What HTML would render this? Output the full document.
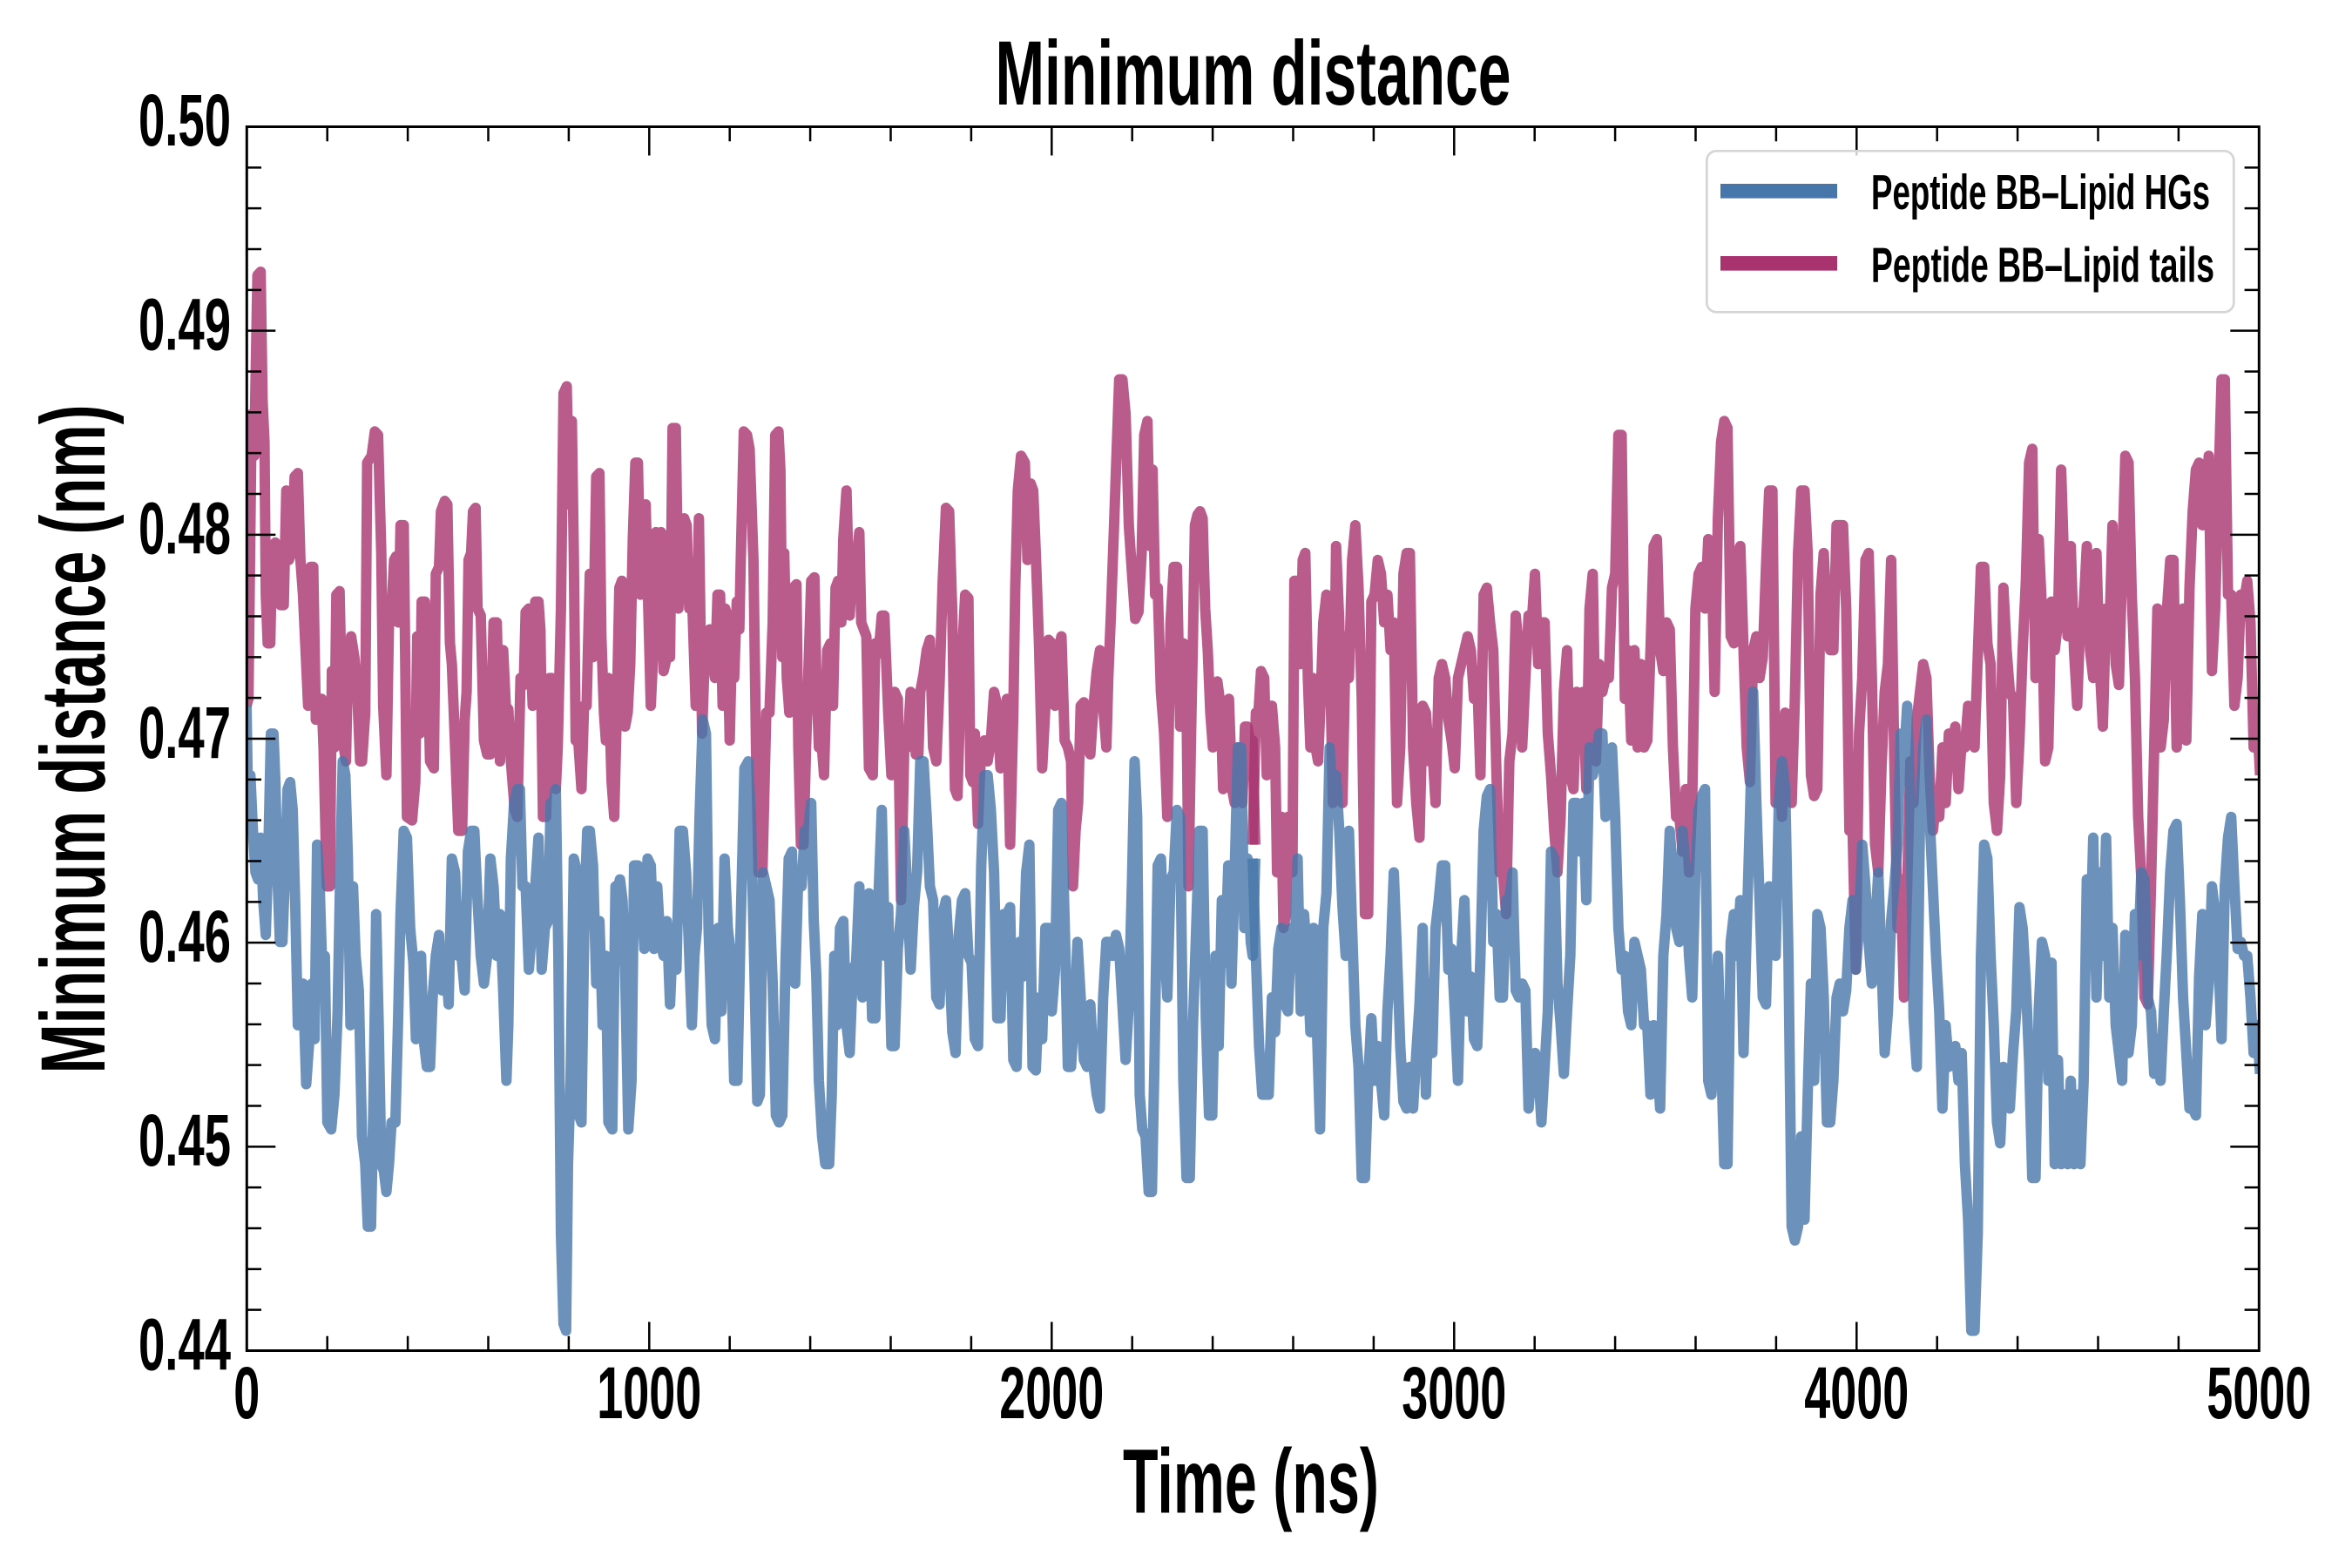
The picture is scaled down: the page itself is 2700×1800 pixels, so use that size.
<!DOCTYPE html>
<html>
<head>
<meta charset="utf-8">
<style>
html,body{margin:0;padding:0;background:#fff;}
svg{display:block;}
text{font-family:"Liberation Sans","DejaVu Sans",sans-serif;font-weight:bold;fill:#000;}
</style>
</head>
<body>
<svg width="2700" height="1800" viewBox="0 0 2700 1800" xmlns="http://www.w3.org/2000/svg">
<rect x="0" y="0" width="2700" height="1800" fill="#fff"/>
<defs>
<clipPath id="ax"><rect x="283.3" y="145.5" width="2310" height="1405"/></clipPath>
</defs>

<g clip-path="url(#ax)" fill="none" stroke-linejoin="round" stroke-linecap="butt">
<g transform="translate(283,300) scale(0.73661,0.79719)">
<polyline vector-effect="non-scaling-stroke" stroke="#a8336f" stroke-opacity="0.8" stroke-width="12" points="0,640 3,630 8,220 12,280 17,20 22,15 25,200 28,260 30,480 33,550 37,550 40,410 45,405 50,440 53,495 58,495 62,330 66,430 70,420 75,310 80,305 84,430 88,480 92,560 96,640 100,440 104,440 108,660 112,630 117,630 120,700 125,900 130,900 133,590 137,700 140,480 145,475 150,690 155,720 158,580 163,540 168,570 172,610 177,720 180,720 185,650 188,290 195,280 200,245 205,250 210,420 213,640 218,740 222,520 225,520 230,430 233,425 237,520 240,380 245,380 250,800 258,805 263,750 266,540 270,680 273,490 278,490 283,600 286,720 292,730 295,450 300,440 303,360 309,345 313,350 317,550 320,580 323,650 330,820 336,820 340,660 343,620 346,430 350,420 353,360 357,355 360,500 365,510 370,690 375,710 380,710 385,520 390,520 395,720 400,560 404,640 408,645 412,720 418,790 422,800 427,600 432,610 435,505 440,500 446,640 450,490 455,490 458,530 462,800 467,800 472,600 476,600 478,700 482,760 485,700 490,500 494,190 499,180 503,350 507,230 510,420 513,690 517,690 522,760 526,640 530,640 535,450 540,570 545,310 550,305 553,540 557,650 560,690 564,600 569,750 573,800 577,650 581,470 585,460 590,670 594,650 598,580 602,400 606,290 610,290 614,480 618,450 622,350 627,530 630,640 635,540 638,390 642,440 646,390 650,590 655,570 660,570 664,240 669,240 673,500 678,420 682,370 686,380 690,500 695,500 700,640 705,370 710,680 714,570 718,540 722,530 725,560 730,600 734,480 738,480 742,640 746,500 749,510 753,690 757,530 760,600 764,490 768,530 770,440 775,245 780,250 784,270 790,430 794,700 798,880 804,880 810,650 815,650 820,520 824,250 829,245 832,300 835,570 838,420 842,600 846,650 852,470 857,465 860,700 864,840 868,840 872,700 876,580 880,460 885,455 888,600 892,700 896,690 900,740 905,560 910,550 914,640 918,470 922,460 927,520 930,400 935,330 940,510 945,420 950,440 955,390 958,520 962,530 966,540 970,730 976,740 980,550 985,565 990,510 994,510 1000,650 1005,740 1010,620 1015,630 1020,920 1025,700 1030,700 1035,620 1040,640 1043,710 1047,710 1050,620 1055,595 1060,560 1065,545 1070,700 1075,720 1080,610 1085,460 1090,355 1095,360 1100,510 1104,760 1108,770 1112,640 1115,570 1120,480 1125,485 1128,740 1132,750 1135,680 1140,810 1145,700 1150,690 1155,720 1160,690 1165,620 1170,640 1175,730 1180,700 1185,630 1190,840 1195,650 1198,470 1202,330 1207,280 1213,290 1217,430 1222,320 1226,330 1230,420 1235,550 1240,730 1245,640 1250,545 1255,550 1260,640 1265,560 1270,540 1275,690 1280,700 1285,720 1288,900 1292,820 1296,780 1300,640 1305,635 1310,700 1315,710 1320,640 1325,590 1330,560 1335,640 1340,700 1343,600 1347,510 1352,380 1355,300 1360,170 1365,170 1370,220 1375,380 1380,450 1385,515 1390,505 1395,420 1399,250 1404,230 1408,410 1412,300 1416,480 1420,470 1425,620 1430,680 1435,800 1440,520 1445,440 1450,440 1455,670 1460,550 1465,640 1468,900 1472,680 1475,540 1478,380 1482,365 1486,360 1490,370 1494,500 1498,560 1502,650 1506,700 1510,620 1513,605 1518,640 1522,760 1526,700 1531,630 1536,760 1540,780 1545,700 1548,720 1552,780 1556,670 1560,670 1565,700 1568,690 1572,840"/>
</g>
<g transform="translate(1438,300) scale(0.73661,0.79719)">
<polyline vector-effect="non-scaling-stroke" stroke="#a8336f" stroke-opacity="0.8" stroke-width="12" points="0,840 5,650 9,650 13,590 18,600 22,740 26,640 30,640 35,700 38,880 42,880 45,800 48,960 52,940 55,800 58,860 62,880 65,460 70,460 74,580 78,430 82,420 86,600 90,700 94,600 98,700 102,720 106,630 110,520 115,480 120,550 125,780 130,410 135,520 140,780 145,540 150,600 155,430 160,380 165,470 170,630 175,940 180,940 185,490 190,480 195,430 200,450 205,520 210,480 215,560 220,520 225,780 230,700 235,450 240,420 245,420 250,700 255,780 260,830 265,640 270,650 275,720 280,700 285,780 290,600 295,580 300,600 305,660 310,690 315,730 320,600 325,580 330,560 335,540 340,560 345,630 350,600 355,740 360,480 365,470 370,520 375,560 380,740 385,880 390,880 395,940 400,720 405,680 410,510 415,560 420,700 425,600 430,510 435,520 440,450 445,580 450,520 455,520 460,680 465,740 470,820 475,880 480,800 485,620 490,560 495,740 500,760 505,620 510,700 515,620 520,760 525,500 530,450 535,720 540,580 545,620 550,600 555,600 560,470 565,450 570,250 575,250 580,630 585,560 590,690 595,560 600,700 605,580 610,700 615,690 620,560 625,410 630,400 635,560 640,590 645,520 650,530 655,700 660,800 665,800 670,850 675,760 680,880 685,780 690,500 695,450 700,440 705,500 710,400 715,410 720,620 725,370 730,260 735,230 740,240 745,540 750,550 755,420 760,410 765,560 770,700 775,750 780,560 785,540 790,600 795,570 800,440 805,330 810,330 815,780 820,720 825,800 830,650 835,700 840,780 845,630 850,420 855,330 860,330 865,420 870,740 875,770 880,760 885,480 890,420 895,520 900,560 905,560 910,380 915,380 920,380 925,500 930,820 935,820 940,1020 945,680 950,600 955,430 960,420 965,600 970,840 975,880 980,730 985,620 990,580 995,430 1000,720 1005,960 1010,890 1015,1060 1020,900 1025,720 1030,780 1035,660 1040,620 1045,580 1050,600 1055,740 1060,820 1065,780 1070,800 1075,700 1080,780 1085,680 1090,700 1095,670 1100,760 1105,690 1110,700 1115,640 1120,680 1125,700 1130,570 1135,440 1140,440 1145,550 1150,580 1155,780 1160,820 1165,740 1170,470 1175,560 1180,620 1185,630 1190,780 1195,690 1200,560 1205,460 1210,290 1215,270 1220,600 1225,400 1230,500 1235,720 1240,700 1245,490 1250,560 1255,520 1260,300 1265,450 1270,540 1275,410 1280,560 1285,640 1290,510 1295,500 1300,410 1305,560 1310,600 1315,420 1320,580 1325,670 1330,500 1335,540 1340,380 1345,580 1350,610 1355,440 1360,280 1365,290 1370,480 1375,600 1380,800 1385,890 1390,1060 1395,1070 1400,900 1405,700 1410,500 1415,700 1420,660 1425,500 1430,430 1435,430 1440,700 1445,620 1450,500 1455,690 1460,470 1465,360 1470,300 1475,290 1480,380 1485,370 1490,280 1495,590 1500,500 1505,330 1510,170 1515,170 1520,480 1525,480 1530,640 1535,600 1540,480 1545,490 1550,460 1555,520 1560,700 1565,650 1570,740"/>
</g>
<g transform="translate(283,300) scale(0.73661,0.79719)">
<polyline vector-effect="non-scaling-stroke" stroke="#4777aa" stroke-opacity="0.8" stroke-width="12" points="0,640 3,820 6,740 10,820 14,880 18,890 22,830 26,920 30,970 34,850 38,680 42,680 45,750 48,880 52,980 56,980 60,880 64,760 68,750 72,790 76,930 80,1100 84,1100 88,1040 93,1185 98,1120 102,1040 106,1120 110,840 114,900 118,1020 122,1000 126,1240 132,1250 137,1200 142,1080 146,880 150,720 154,740 158,860 162,1100 166,900 170,1000 175,1050 180,1260 185,1300 189,1390 194,1390 198,1200 202,940 206,1100 210,1300 214,1310 218,1340 222,1300 226,1240 232,1240 236,1100 240,940 245,820 250,830 255,960 260,1010 264,1120 268,1050 272,1000 276,1120 281,1160 286,1160 290,1060 295,1000 300,970 305,1050 310,1000 315,1070 320,860 325,880 330,1000 335,1000 340,1050 345,850 350,820 355,820 360,920 365,1000 370,1040 375,1000 380,860 385,900 390,1000 395,940 400,1050 405,1180 408,1100 412,860 417,780 422,760 426,760 430,900 435,900 440,1020 445,960 450,900 455,830 460,1020 465,960 470,950 474,780 478,780 482,760 486,1000 490,1400 494,1530 498,1540 501,1300 505,1180 510,860 515,880 518,1230 522,1240 527,920 531,820 535,820 540,870 545,1040 550,950 555,1100 560,1000 564,1240 570,1250 575,900 579,900 582,890 586,920 590,1020 595,1250 600,1180 604,870 610,870 615,900 620,990 625,860 630,870 635,990 640,900 645,980 650,1000 655,950 660,1070 665,960 670,1020 675,820 680,820 685,880 690,1000 694,1100 698,1000 702,960 706,800 711,660 716,680 720,960 725,1100 730,1120 735,960 740,1080 745,860 750,960 755,1000 760,1180 765,1180 770,960 776,730 782,720 786,800 790,960 796,1210 800,1200 805,880 810,900 815,920 820,1040 825,1230 830,1240 835,1230 840,1010 845,860 850,850 855,1040 860,880 865,900 870,820 875,820 880,780 884,950 888,1030 892,1180 897,1260 902,1300 908,1300 912,1200 916,1000 920,1100 925,960 930,950 935,1100 940,1140 945,1020 950,1010 955,900 960,1060 965,1000 970,910 975,1090 980,1090 985,910 990,790 995,1000 1000,930 1005,1130 1010,1130 1015,990 1020,940 1025,820 1030,910 1035,1020 1040,930 1045,880 1050,720 1055,720 1060,800 1065,900 1070,920 1075,1060 1080,1070 1085,940 1090,920 1095,1000 1100,1110 1105,1140 1110,970 1115,920 1120,910 1125,1000 1130,1010 1135,1120 1140,1130 1145,870 1150,740 1155,740 1160,790 1165,880 1170,1090 1175,1090 1180,940 1185,940 1190,930 1195,1150 1200,1160 1205,980 1210,1030 1215,880 1220,840 1225,1160 1230,1165 1235,1060 1240,1120 1245,960 1250,960 1255,1080 1260,1020 1265,790 1270,780 1275,950 1280,1160 1285,1160 1290,1080 1295,980 1300,1060 1305,1150 1310,1160 1315,1070 1320,1160 1325,1200 1330,1220 1335,1060 1340,980 1345,980 1350,1000 1355,970 1360,990 1365,1070 1370,1150 1375,1070 1380,890 1384,720 1388,800 1392,1200 1396,1250 1401,1260 1406,1340 1411,1340 1415,1150 1420,870 1425,860 1430,980 1435,1060 1440,890 1445,880 1450,790 1455,800 1460,1180 1465,1320 1470,1320 1475,1100 1480,960 1485,820 1490,820 1495,1090 1500,1230 1505,1230 1510,1000 1515,1130 1520,920 1525,1010 1530,870 1535,1040 1540,880 1545,700 1550,700 1555,960 1560,860 1565,980 1568,1000 1572,860"/>
</g>
<g transform="translate(1438,300) scale(0.73661,0.79719)">
<polyline vector-effect="non-scaling-stroke" stroke="#4777aa" stroke-opacity="0.8" stroke-width="12" points="0,860 5,1000 10,1130 15,1200 20,1200 25,1200 30,1060 35,1110 40,990 45,960 50,1070 55,1080 60,960 65,1010 70,860 75,1080 80,940 85,1000 90,1110 95,960 100,1100 105,1250 110,960 115,910 120,700 125,780 130,740 135,820 140,930 145,1000 150,820 155,960 160,1100 165,1160 170,1320 175,1320 180,1180 185,1090 190,1180 195,1130 200,1180 205,1230 210,1080 215,1000 220,880 225,1000 230,1130 235,1210 240,1220 245,1160 250,1220 255,1140 260,1070 265,960 270,1200 275,1040 280,1140 285,960 290,920 295,870 300,870 305,1020 310,990 315,1080 320,1180 325,1000 330,920 335,1080 340,1030 345,1120 350,1130 355,1000 360,820 365,770 370,760 375,980 380,940 385,1060 390,1060 395,920 400,920 405,880 410,1050 415,1060 420,1040 425,1050 430,1220 435,1160 440,1140 445,1160 450,1240 455,1160 460,1080 465,850 470,860 475,1040 480,1100 485,1170 490,1080 495,1000 500,780 505,780 510,850 515,780 520,920 525,700 530,740 535,720 540,680 545,680 550,800 555,720 560,700 565,800 570,960 575,1020 580,1000 585,1080 590,1100 595,980 600,1000 605,1020 610,1100 615,1100 620,1200 625,1100 630,1140 635,1220 640,1000 645,940 650,820 655,880 660,960 665,980 670,820 675,880 680,1000 685,1060 690,880 695,790 700,770 705,760 710,1180 715,1200 720,1100 725,1000 730,1140 735,1300 740,1300 745,980 750,940 755,1000 760,920 765,1140 770,960 775,800 780,620 785,780 790,920 795,1060 800,1070 805,900 810,920 815,1000 820,780 825,720 830,760 835,1000 840,1390 845,1410 850,1390 855,1260 860,1380 865,1200 870,1040 875,1180 880,940 885,960 890,1060 895,1240 900,1240 905,1180 910,1060 915,1040 920,1080 925,1050 930,960 935,920 940,1020 945,960 950,840 955,900 960,980 965,1040 970,960 975,880 980,1010 985,1140 990,1080 995,950 1000,900 1005,840 1010,680 1015,720 1020,640 1025,780 1030,1090 1035,1160 1040,800 1045,700 1050,660 1055,800 1060,900 1065,1000 1070,1080 1075,1220 1080,1100 1085,1160 1090,1140 1095,1130 1100,1180 1105,1140 1110,1300 1115,1380 1120,1540 1125,1540 1130,1400 1135,1000 1140,840 1145,860 1150,1000 1155,1100 1160,1240 1165,1270 1170,1160 1175,1200 1180,1220 1185,1140 1190,1080 1195,930 1200,960 1205,1040 1210,1150 1215,1320 1220,1320 1225,1080 1230,980 1235,1000 1240,1180 1245,1010 1250,1300 1255,1150 1260,1300 1265,1200 1270,1300 1275,1180 1280,1300 1285,1200 1290,1300 1295,1180 1300,890 1305,1000 1310,830 1315,1060 1320,880 1325,1000 1330,830 1335,1060 1340,960 1345,1100 1350,1140 1355,1180 1360,970 1365,1140 1370,1100 1375,940 1380,1000 1385,880 1390,890 1395,1060 1400,1080 1405,1170 1410,1120 1415,1180 1420,1080 1425,990 1430,880 1435,820 1440,810 1445,920 1450,1060 1455,1140 1460,1220 1465,1220 1470,1230 1475,1030 1480,940 1485,1100 1490,1040 1495,900 1500,940 1505,1000 1510,1120 1515,900 1520,830 1525,800 1530,900 1535,990 1540,980 1545,1000 1550,1000 1555,1060 1560,1140 1565,1100 1570,1170"/>
</g>
</g>

<g stroke="#000" stroke-width="2.5" fill="none">
<path d="M745.3 1550.5v-33M1207.3 1550.5v-33M1669.3 1550.5v-33M2131.3 1550.5v-33
M745.3 145.5v33M1207.3 145.5v33M1669.3 145.5v33M2131.3 145.5v33"/>
<path d="M375.7 1550.5v-16.7M468.1 1550.5v-16.7M560.5 1550.5v-16.7M652.9 1550.5v-16.7M837.7 1550.5v-16.7M930.1 1550.5v-16.7M1022.5 1550.5v-16.7M1114.9 1550.5v-16.7M1299.7 1550.5v-16.7M1392.1 1550.5v-16.7M1484.5 1550.5v-16.7M1576.9 1550.5v-16.7M1761.7 1550.5v-16.7M1854.1 1550.5v-16.7M1946.5 1550.5v-16.7M2038.9 1550.5v-16.7M2223.7 1550.5v-16.7M2316.1 1550.5v-16.7M2408.5 1550.5v-16.7M2500.9 1550.5v-16.7"/>
<path d="M375.7 145.5v16.7M468.1 145.5v16.7M560.5 145.5v16.7M652.9 145.5v16.7M837.7 145.5v16.7M930.1 145.5v16.7M1022.5 145.5v16.7M1114.9 145.5v16.7M1299.7 145.5v16.7M1392.1 145.5v16.7M1484.5 145.5v16.7M1576.9 145.5v16.7M1761.7 145.5v16.7M1854.1 145.5v16.7M1946.5 145.5v16.7M2038.9 145.5v16.7M2223.7 145.5v16.7M2316.1 145.5v16.7M2408.5 145.5v16.7M2500.9 145.5v16.7"/>
<path d="M283.3 379.67h33M283.3 613.83h33M283.3 848h33M283.3 1082.17h33M283.3 1316.33h33
M2593.3 379.67h-33M2593.3 613.83h-33M2593.3 848h-33M2593.3 1082.17h-33M2593.3 1316.33h-33"/>
<path d="M283.3 192.33h16.7M283.3 239.17h16.7M283.3 286h16.7M283.3 332.83h16.7M283.3 426.5h16.7M283.3 473.33h16.7M283.3 520.17h16.7M283.3 567h16.7M283.3 660.67h16.7M283.3 707.5h16.7M283.3 754.33h16.7M283.3 801.17h16.7M283.3 894.83h16.7M283.3 941.67h16.7M283.3 988.5h16.7M283.3 1035.33h16.7M283.3 1129h16.7M283.3 1175.83h16.7M283.3 1222.67h16.7M283.3 1269.5h16.7M283.3 1363.17h16.7M283.3 1410h16.7M283.3 1456.83h16.7M283.3 1503.67h16.7"/>
<path d="M2593.3 192.33h-16.7M2593.3 239.17h-16.7M2593.3 286h-16.7M2593.3 332.83h-16.7M2593.3 426.5h-16.7M2593.3 473.33h-16.7M2593.3 520.17h-16.7M2593.3 567h-16.7M2593.3 660.67h-16.7M2593.3 707.5h-16.7M2593.3 754.33h-16.7M2593.3 801.17h-16.7M2593.3 894.83h-16.7M2593.3 941.67h-16.7M2593.3 988.5h-16.7M2593.3 1035.33h-16.7M2593.3 1129h-16.7M2593.3 1175.83h-16.7M2593.3 1222.67h-16.7M2593.3 1269.5h-16.7M2593.3 1363.17h-16.7M2593.3 1410h-16.7M2593.3 1456.83h-16.7M2593.3 1503.67h-16.7"/>
</g>

<rect x="283.3" y="145.5" width="2310" height="1405" fill="none" stroke="#000" stroke-width="3"/>

<g font-size="84" text-anchor="end">
<text x="265" y="167" textLength="106" lengthAdjust="spacingAndGlyphs">0.50</text>
<text x="265" y="401.5" textLength="106" lengthAdjust="spacingAndGlyphs">0.49</text>
<text x="265" y="635.7" textLength="106" lengthAdjust="spacingAndGlyphs">0.48</text>
<text x="265" y="869.8" textLength="106" lengthAdjust="spacingAndGlyphs">0.47</text>
<text x="265" y="1104" textLength="106" lengthAdjust="spacingAndGlyphs">0.46</text>
<text x="265" y="1338.2" textLength="106" lengthAdjust="spacingAndGlyphs">0.45</text>
<text x="265" y="1572.5" textLength="106" lengthAdjust="spacingAndGlyphs">0.44</text>
</g>

<g font-size="84" text-anchor="middle">
<text x="283.3" y="1628" textLength="30" lengthAdjust="spacingAndGlyphs">0</text>
<text x="745.3" y="1628" textLength="120" lengthAdjust="spacingAndGlyphs">1000</text>
<text x="1207.3" y="1628" textLength="120" lengthAdjust="spacingAndGlyphs">2000</text>
<text x="1669.3" y="1628" textLength="120" lengthAdjust="spacingAndGlyphs">3000</text>
<text x="2131.3" y="1628" textLength="120" lengthAdjust="spacingAndGlyphs">4000</text>
<text x="2593.3" y="1628" textLength="120" lengthAdjust="spacingAndGlyphs">5000</text>
</g>

<text x="1438.5" y="120" font-size="105" text-anchor="middle" textLength="592" lengthAdjust="spacingAndGlyphs">Minimum distance</text>
<text x="1436" y="1736.7" font-size="105" text-anchor="middle" textLength="294" lengthAdjust="spacingAndGlyphs">Time (ns)</text>
<text transform="translate(120,848.5) rotate(-90)" x="0" y="0" font-size="105" text-anchor="middle" textLength="768" lengthAdjust="spacingAndGlyphs">Minimum distance (nm)</text>

<rect x="1959.3" y="173.3" width="605" height="185" rx="11" ry="11" fill="#fff" fill-opacity="0.8" stroke="#d5d5d5" stroke-width="2.7"/>
<line x1="1975" y1="219.3" x2="2109" y2="219.3" stroke="#4777aa" stroke-width="16.7"/>
<line x1="1975" y1="302.3" x2="2109" y2="302.3" stroke="#a8336f" stroke-width="16.7"/>
<text x="2148" y="240" font-size="57" textLength="389" lengthAdjust="spacingAndGlyphs">Peptide BB–Lipid HGs</text>
<text x="2148" y="323.3" font-size="57" textLength="394" lengthAdjust="spacingAndGlyphs">Peptide BB–Lipid tails</text>
</svg>
</body>
</html>
